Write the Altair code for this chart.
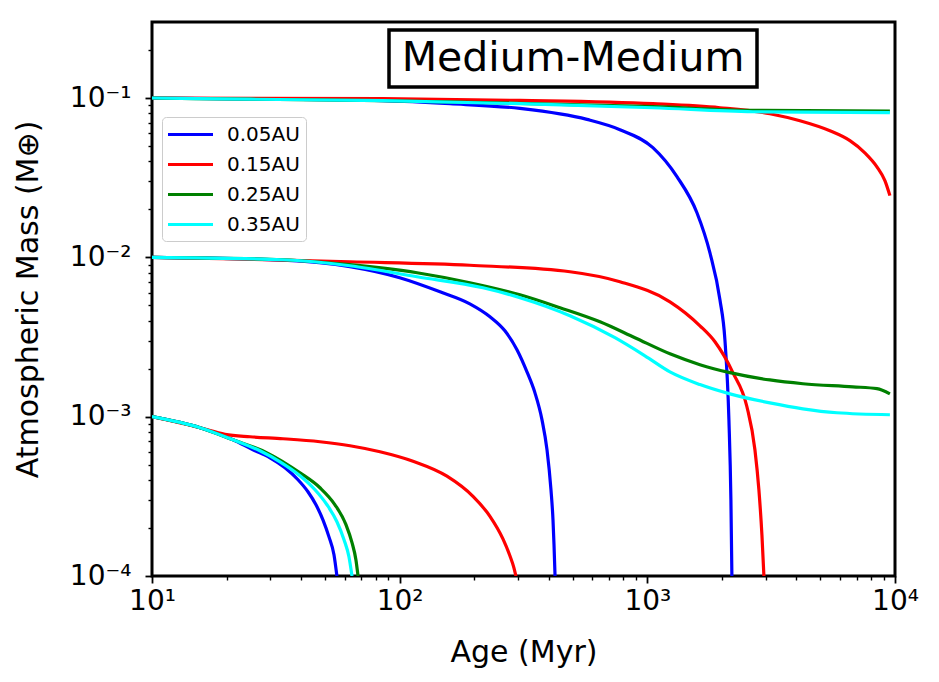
import altair as alt
import pandas as pd

AU_LABELS = ["0.05AU", "0.15AU", "0.25AU", "0.35AU"]
AU_COLORS = ["#0000ff", "#ff0000", "#008000", "#00ffff"]

# ---- initial atmosphere 0.1 M_earth ----
b1_age = [10, 24.9, 85.6, 159.6, 306, 570.5, 775, 1053, 1317, 1586, 1789, 1964, 2057, 2135, 2175, 2195]
b1_m = [0.1, 0.0987, 0.0962, 0.0921, 0.0860, 0.0734, 0.0633, 0.0488, 0.0321, 0.01905, 0.01069, 0.00542, 0.00304, 0.000956, 0.000301, 0.0001]
r1_age = [10, 85.6, 306, 1053, 1964, 3125, 4131, 5460, 6576, 7556, 8453, 9104, 9537]
r1_m = [0.1, 0.0990, 0.0966, 0.0921, 0.0869, 0.0797, 0.0720, 0.0623, 0.0540, 0.0453, 0.0370, 0.0303, 0.0244]
g1_age = [10, 24.9, 85.6, 306, 1053, 2669, 9537]
g1_m = [0.1, 0.0983, 0.0962, 0.0925, 0.0882, 0.0836, 0.0829]
c1_age = [10, 24.9, 85.6, 306, 1053, 2669, 9537]
c1_m = [0.1, 0.0983, 0.0962, 0.0921, 0.0869, 0.0820, 0.0809]

# ---- initial atmosphere 0.01 M_earth ----
b2_age = [10, 33.8, 63.0, 100, 145.5, 192, 231.5, 266, 297.6, 326.6, 351.8, 375.6, 393.5, 408.3, 416, 420, 424]
b2_m = [0.01, 0.00959, 0.00874, 0.00745, 0.00608, 0.00511, 0.00424, 0.00346, 0.00263, 0.00191, 0.00141, 0.000955, 0.000619, 0.000347, 0.000225, 0.000156, 0.0001]
r2_age = [10, 24.9, 63.0, 192, 487, 775, 1234, 1631, 1875, 2215, 2524, 2719, 2821, 2902, 2956]
r2_m = [0.01, 0.00973, 0.00938, 0.00892, 0.00812, 0.00703, 0.00526, 0.00372, 0.00295, 0.00189, 0.001154, 0.00062, 0.000348, 0.000181, 0.0001]
g2_age = [10, 33.8, 63.0, 117.5, 192, 306, 444, 644, 891, 1234, 1631, 2155, 3125, 4248, 6761, 8453, 9537]
g2_m = [0.01, 0.00966, 0.00899, 0.00800, 0.00693, 0.00582, 0.00483, 0.00394, 0.00313, 0.00248, 0.00212, 0.00189, 0.00170, 0.00161, 0.00154, 0.00150, 0.00139]
c2_age = [10, 33.8, 63.0, 117.5, 216.9, 306, 487, 740, 978, 1234, 1631, 2155, 3125, 4248, 5826, 9537]
c2_m = [0.01, 0.00966, 0.00886, 0.00755, 0.00644, 0.00558, 0.00430, 0.00313, 0.00241, 0.00191, 0.00159, 0.00139, 0.00122, 0.00112, 0.001058, 0.001028]

# ---- initial atmosphere 0.001 M_earth ----
b3_age = [10, 15.63, 21.23, 25.57, 29.96, 34.43, 38.86, 42.63, 45.93, 49.0, 51.83, 54.3, 55.8]
b3_m = [0.001, 0.000852, 0.000716, 0.00062, 0.000552, 0.000478, 0.000402, 0.000338, 0.00028, 0.000225, 0.000176, 0.000136, 0.0001]
r3_age = [10, 15.63, 19.71, 24.9, 33.8, 47.66, 63.0, 83.26, 113.2, 155.2, 197.7, 231.5, 261.2, 278.7, 289.3, 294.7]
r3_m = [0.001, 0.000852, 0.000775, 0.000748, 0.000727, 0.000696, 0.000657, 0.000602, 0.000525, 0.000423, 0.000316, 0.000237, 0.000171, 0.000134, 0.0001126, 0.0001]
g3_age = [10, 15.63, 21.23, 29.13, 39.59, 47.66, 54.8, 60.7, 64.2, 66.6, 67.9]
g3_m = [0.001, 0.000852, 0.000716, 0.000593, 0.000444, 0.000358, 0.00028, 0.00021, 0.000162, 0.000126, 0.0001]
c3_age = [10, 15.63, 21.23, 27.29, 32.87, 39.59, 45.5, 50.87, 55.8, 59.6, 62.4, 64.2]
c3_m = [0.001, 0.000852, 0.000716, 0.000611, 0.000521, 0.000426, 0.000348, 0.00028, 0.000219, 0.000169, 0.000132, 0.0001]

series = [
    ("0.05AU", "m1", b1_age, b1_m), ("0.05AU", "m2", b2_age, b2_m), ("0.05AU", "m3", b3_age, b3_m),
    ("0.15AU", "m1", r1_age, r1_m), ("0.15AU", "m2", r2_age, r2_m), ("0.15AU", "m3", r3_age, r3_m),
    ("0.25AU", "m1", g1_age, g1_m), ("0.25AU", "m2", g2_age, g2_m), ("0.25AU", "m3", g3_age, g3_m),
    ("0.35AU", "m1", c1_age, c1_m), ("0.35AU", "m2", c2_age, c2_m), ("0.35AU", "m3", c3_age, c3_m),
]
rows = []
order = 0
for au, grp, ages, ms in series:
    for a, m in zip(ages, ms):
        rows.append({"au": au, "curve": au + grp, "age": a, "mass": m, "o": order})
        order += 1
df = pd.DataFrame(rows)

X_MAJOR = [10, 100, 1000, 10000]
X_MINOR = [v * k for v in [10, 100, 1000] for k in range(2, 10)]
Y_MAJOR = [1e-4, 1e-3, 1e-2, 1e-1]
Y_MINOR = [v * k for v in [1e-4, 1e-3, 1e-2, 1e-1] for k in range(2, 10) if v * k <= 0.3]

FONT = "DejaVu Sans"
W, H = 743, 554

xscale = alt.Scale(type="log", domain=[10, 10000], nice=False)
yscale = alt.Scale(type="log", domain=[1e-4, 0.3], nice=False)

x_lab = ("datum.value < 50 ? '10\u00b9' : datum.value < 500 ? '10\u00b2' : "
         "datum.value < 5000 ? '10\u00b3' : '10\u2074'")
y_lab = ("datum.value < 0.0005 ? '10\u207b\u2074' : datum.value < 0.005 ? '10\u207b\u00b3' : "
         "datum.value < 0.05 ? '10\u207b\u00b2' : '10\u207b\u00b9'")

lines = alt.Chart(df).mark_line(strokeWidth=3.2, clip=True, interpolate="monotone").encode(
    x=alt.X("age:Q", scale=xscale,
            axis=alt.Axis(orient="bottom", values=X_MAJOR, labelExpr=x_lab, title="Age (Myr)",
                          domain=False, grid=False, tickSize=7, tickWidth=1.8, tickColor="black",
                          labelFont=FONT, labelFontSize=28, labelColor="black", labelPadding=4,
                          labelFlush=False, labelOverlap=False,
                          titleFont=FONT, titleFontSize=30, titleFontWeight="normal", titleColor="black",
                          titleY=85, titleBaseline="alphabetic")),
    y=alt.Y("mass:Q", scale=yscale,
            axis=alt.Axis(orient="left", values=Y_MAJOR, labelExpr=y_lab,
                          title="Atmospheric Mass (M\u2295)",
                          domain=False, grid=False, tickSize=7, tickWidth=1.8, tickColor="black",
                          labelFont=FONT, labelFontSize=28, labelColor="black", labelPadding=14,
                          labelFlush=False, labelOverlap=False, labelBaseline="middle",
                          titleFont=FONT, titleFontSize=30, titleFontWeight="normal", titleColor="black",
                          titleX=-124, titleY=H / 2, titleBaseline="middle", titleAngle=270)),
    color=alt.Color("au:N", scale=alt.Scale(domain=AU_LABELS, range=AU_COLORS),
                    legend=alt.Legend(title=None, orient="none", legendX=10, legendY=95,
                                      symbolType="M-2.25,0H2.25", symbolSize=400,
                                      symbolStrokeWidth=2.8, symbolOffset=11,
                                      labelFont=FONT, labelFontSize=20, labelColor="black",
                                      labelOffset=25, rowPadding=8, padding=6,
                                      strokeColor="#cccccc", fillColor="white", cornerRadius=4)),
    detail="curve:N",
    order="o:Q",
)

minor_df = pd.DataFrame({"age": [10, 10000], "mass": [1e-4, 0.3]})
minor = alt.Chart(minor_df).mark_point(opacity=0).encode(
    x=alt.X("age:Q", scale=xscale,
            axis=alt.Axis(orient="bottom", values=X_MINOR, labels=False, title="", domain=False,
                          grid=False, tickSize=4, tickWidth=1.4, tickColor="black")),
    y=alt.Y("mass:Q", scale=yscale,
            axis=alt.Axis(orient="left", values=Y_MINOR, labels=False, title="", domain=False,
                          grid=False, tickSize=4, tickWidth=1.4, tickColor="black")),
)

box_df = pd.DataFrame({"t": ["Medium-Medium"]})
box = alt.Chart(box_df).mark_rect(fill="white", stroke="black", strokeWidth=3.5).encode(
    x=alt.value(237), x2=alt.value(605), y=alt.value(8), y2=alt.value(65)
)
label = alt.Chart(box_df).mark_text(font=FONT, fontSize=41, color="black", align="center",
                                    baseline="middle").encode(
    x=alt.value(421), y=alt.value(37), text="t:N"
)

chart = alt.layer(minor, lines, box, label).resolve_axis(
    x="independent", y="independent"
).properties(
    width=W, height=H,
    autosize=alt.AutoSizeParams(type="none"),
    padding={"left": 152, "top": 22, "right": 44, "bottom": 106},
    background="white",
).configure_view(stroke="black", strokeWidth=3)

chart.save("out.html", embed_options={"renderer": "svg", "actions": False})
